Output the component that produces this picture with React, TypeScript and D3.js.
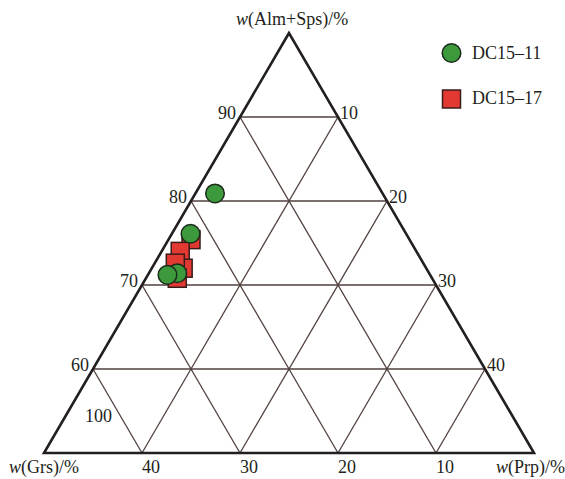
import React from "react";
import * as d3 from "d3";

// Ternary data: Alm+Sps, Grs, Prp (wt %), sum = 100; axis ranges 50–100 / 0–50 / 0–50
const circleAlmSps = [80.9, 76.1, 71.4, 71.2];
const circleGrs = [17.1, 22.0, 25.7, 26.8];
const circlePrp = [2.0, 1.9, 2.9, 2.0];

const squareAlmSps = [75.4, 74.0, 72.0, 70.8, 72.6];
const squareGrs = [22.3, 24.1, 24.8, 26.0, 25.3];
const squarePrp = [2.3, 1.9, 3.2, 3.2, 2.1];

const seriesNames = ["DC15–11", "DC15–17"];
const leftTicks = [90, 80, 70, 60];
const rightTicks = [10, 20, 30, 40];
const bottomTicks = [40, 30, 20, 10];

const W = 565;
const H = 479;
const vA = { x: 289, y: 33 };
const vG = { x: 44, y: 453 };
const vP = { x: 534, y: 453 };

const aScale = d3.scaleLinear().domain([50, 100]).range([0, 1]);
const pScale = d3.scaleLinear().domain([0, 50]).range([0, 1]);

function pos(a: number, p: number) {
  const fa = aScale(a);
  const fp = pScale(p);
  const fg = 1 - fa - fp;
  return {
    x: vA.x * fa + vP.x * fp + vG.x * fg,
    y: vA.y * fa + vP.y * fp + vG.y * fg,
  };
}

const FONT = "'Liberation Serif', 'Times New Roman', serif";
const gridColor = "#4f403c";
const green = "#3c9a3c";
const red = "#e23a33";
const FS = 18;

export default function App() {
  const gridLines: { x1: number; y1: number; x2: number; y2: number }[] = [];
  [60, 70, 80, 90].forEach((a) => {
    const l = pos(a, 0);
    const r = pos(a, 100 - a);
    gridLines.push({ x1: l.x, y1: l.y, x2: r.x, y2: r.y });
  });
  [10, 20, 30, 40].forEach((p) => {
    const b = pos(50, p);
    const t = pos(100 - p, p);
    gridLines.push({ x1: b.x, y1: b.y, x2: t.x, y2: t.y });
  });
  [10, 20, 30, 40].forEach((g) => {
    const b = pos(50, 50 - g);
    const t = pos(100 - g, 0);
    gridLines.push({ x1: b.x, y1: b.y, x2: t.x, y2: t.y });
  });

  const tri = `M${vA.x},${vA.y}L${vG.x},${vG.y}L${vP.x},${vP.y}Z`;
  const circles = circleAlmSps.map((a, i) => pos(a, circlePrp[i]));
  const squares = squareAlmSps.map((a, i) => pos(a, squarePrp[i]));
  const sq = 18;

  return (
    <div style={{ position: "absolute", left: 0, top: 0 }}>
      <svg width={W} height={H} style={{ display: "block", background: "#fff" }} fontFamily={FONT}>
        {gridLines.map((l, i) => (
          <line key={i} x1={l.x1} y1={l.y1} x2={l.x2} y2={l.y2} stroke={gridColor} strokeWidth={1.3} />
        ))}
        <path d={tri} fill="none" stroke="#231f20" strokeWidth={2.6} strokeLinejoin="miter" />

        <text x={236} y={25} fontSize={FS} fill="#231f20">
          <tspan fontStyle="italic">w</tspan>(Alm+Sps)/%
        </text>
        <text x={9} y={473} fontSize={FS} fill="#231f20">
          <tspan fontStyle="italic">w</tspan>(Grs)/%
        </text>
        <text x={565} y={473} fontSize={FS} fill="#231f20" textAnchor="end">
          <tspan fontStyle="italic">w</tspan>(Prp)/%
        </text>

        {leftTicks.map((t) => {
          const p = pos(t, 0);
          return (
            <text key={"l" + t} x={p.x - 4} y={p.y + 2} fontSize={FS} textAnchor="end" fill="#231f20">
              {t}
            </text>
          );
        })}
        {rightTicks.map((t) => {
          const p = pos(100 - t, t);
          return (
            <text key={"r" + t} x={p.x + 2} y={p.y + 2} fontSize={FS} fill="#231f20">
              {t}
            </text>
          );
        })}
        {bottomTicks.map((t) => {
          const p = pos(50, 50 - t);
          return (
            <text key={"b" + t} x={p.x} y={p.y + 20} fontSize={FS} fill="#231f20">
              {t}
            </text>
          );
        })}
        <text x={85} y={422} fontSize={FS} fill="#231f20">100</text>

        {squares.map((p, i) => (
          <rect key={"s" + i} x={p.x - sq / 2} y={p.y - sq / 2} width={sq} height={sq} fill={red} stroke="#3a1c1a" strokeWidth={1.5} />
        ))}
        {circles.map((p, i) => (
          <circle key={"c" + i} cx={p.x} cy={p.y} r={9.3} fill={green} stroke="#1d2b1d" strokeWidth={1.5} />
        ))}

        <circle cx={451.5} cy={53} r={9.3} fill={green} stroke="#1d2b1d" strokeWidth={1.5} />
        <text x={472} y={59} fontSize={FS} fill="#231f20">{seriesNames[0]}</text>
        <rect x={442.5} y={90} width={sq} height={sq} fill={red} stroke="#3a1c1a" strokeWidth={1.5} />
        <text x={472} y={104} fontSize={FS} fill="#231f20">{seriesNames[1]}</text>
      </svg>
    </div>
  );
}
